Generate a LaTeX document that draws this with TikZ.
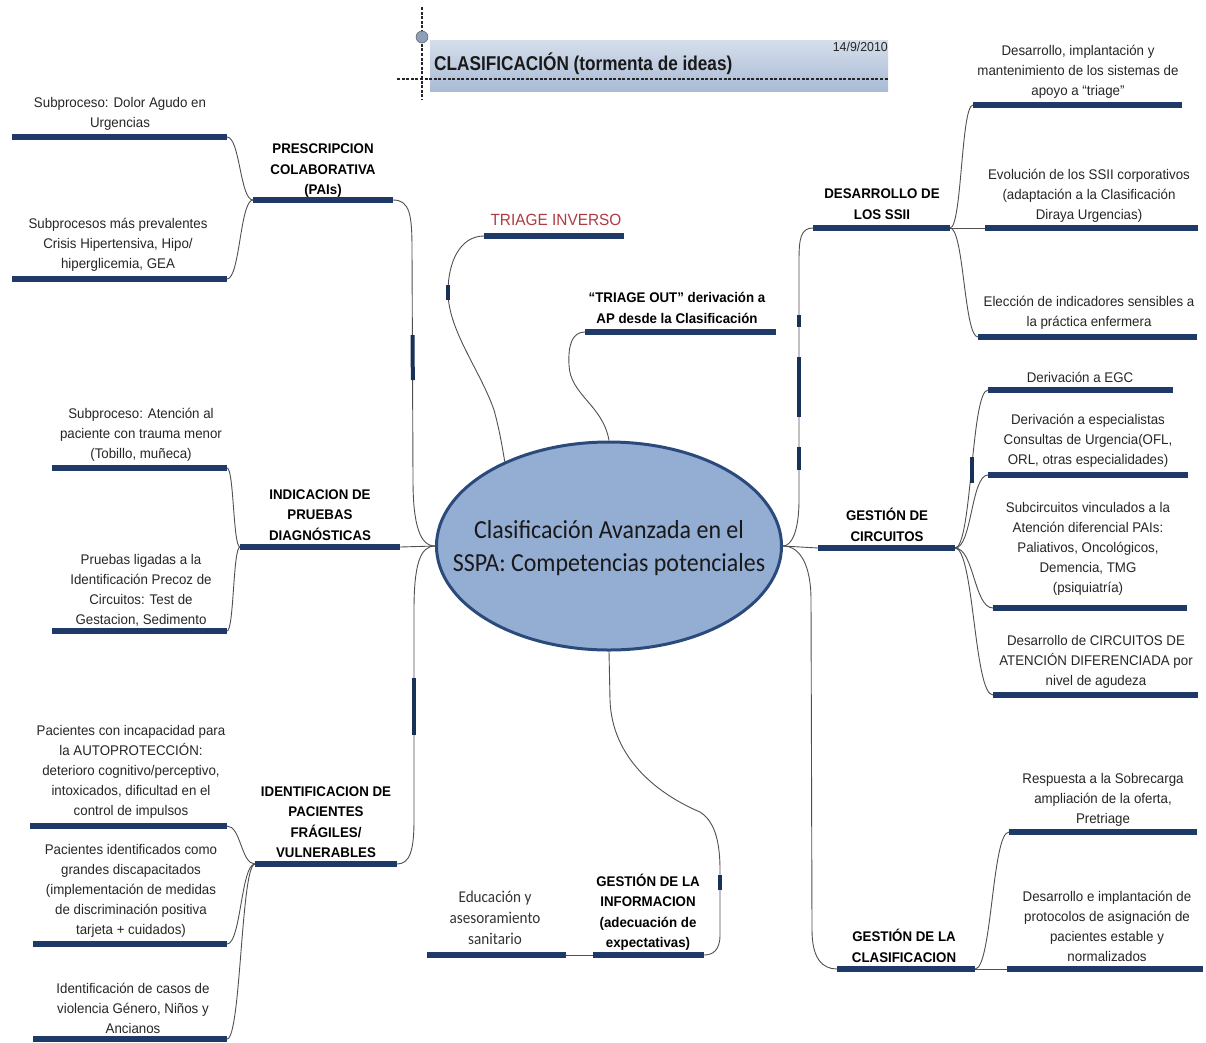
\documentclass[tikz,border=0pt]{standalone}
\usepackage{fontspec}
\setmainfont{Liberation Sans}
\newfontfamily\arl[FakeStretch=0.95]{Liberation Sans}
\newfontfamily\ttlfont[FakeStretch=0.86]{Liberation Sans}
\newfontfamily\calfont[FakeStretch=0.92]{Carlito}
\usetikzlibrary{shapes.geometric}
\definecolor{barblue}{HTML}{1F3A66}
\definecolor{linegray}{HTML}{505050}
\definecolor{ellfill}{HTML}{94ADD3}
\definecolor{elldraw}{HTML}{2B4A7C}
\definecolor{titletop}{HTML}{D5DEEB}
\definecolor{titlebot}{HTML}{A9BBD5}
\definecolor{redtxt}{HTML}{B03A42}
\definecolor{txt}{HTML}{262626}
\tikzset{
  bar/.style={line width=6pt, draw=barblue},
  conn/.style={draw=linegray, line width=0.9pt},
  tick/.style={line width=4pt, draw=barblue!85!black},
  leaf/.style={font=\arl\fontsize{14}{20}\selectfont, align=center, inner sep=0pt, text=txt},
  cat/.style={font=\arl\bfseries\fontsize{14}{20.5}\selectfont, align=center, inner sep=0pt, text=black},
  dashln/.style={line width=1.6pt, draw=black!85, dash pattern=on 3pt off 1.6pt}
}
\begin{document}
\begin{tikzpicture}[x=1pt,y=-1pt]
\path[use as bounding box, fill=white] (0,0) rectangle (1206,1042);

% ---------- title ----------
\shade[top color=titletop, bottom color=titlebot] (430,40) rectangle (888,91);
\draw[dashln] (422,7) -- (422,100);
\draw[dashln] (397,79) -- (888,79);
\node[circle, draw=black!70, fill=ellfill!70!gray, minimum size=12pt, inner sep=0pt] (dot) at (422,37) {};
\node[anchor=west, inner sep=0pt, font=\ttlfont\bfseries\fontsize{20}{24}\selectfont, text=black!90] (title) at (434,64) {CLASIFICACIÓN (tormenta de ideas)};
\node[anchor=east, inner sep=0pt, font=\arl\fontsize{13}{15}\selectfont, text=black!85] (date) at (888,47) {14/9/2010};

% ---------- central ellipse ----------
\node[ellipse, draw=elldraw, line width=3pt, fill=ellfill, minimum width=345pt, minimum height=208pt,
      inner sep=0pt] (E) at (609,546) {};
\node[inner sep=0pt, align=center, font=\calfont\fontsize{26}{33}\selectfont, text=black!90] (Etxt) at (609,548)
      {Clasificación Avanzada en el\\SSPA: Competencias potenciales};

% ---------- bar coordinates ----------
\coordinate (l1L) at (12,137);  \coordinate (l1R) at (227,137);
\coordinate (l2L) at (12,279);  \coordinate (l2R) at (227,279);
\coordinate (pcL) at (253,200); \coordinate (pcR) at (393,200);
\coordinate (l3L) at (52,468);  \coordinate (l3R) at (227,468);
\coordinate (l4L) at (52,631);  \coordinate (l4R) at (227,631);
\coordinate (ipL) at (240,547); \coordinate (ipR) at (400,547);
\coordinate (l5L) at (30,826);  \coordinate (l5R) at (227,826);
\coordinate (l6L) at (33,944);  \coordinate (l6R) at (227,944);
\coordinate (l7L) at (33,1039); \coordinate (l7R) at (227,1039);
\coordinate (idfL) at (255,864); \coordinate (idfR) at (397,864);
\coordinate (tiL) at (484,236); \coordinate (tiR) at (624,236);
\coordinate (toL) at (585,332); \coordinate (toR) at (776,332);
\coordinate (ssL) at (813,228); \coordinate (ssR) at (950,228);
\coordinate (r1L) at (973,105); \coordinate (r1R) at (1182,105);
\coordinate (r2L) at (985,228); \coordinate (r2R) at (1198,228);
\coordinate (r3L) at (978,337); \coordinate (r3R) at (1197,337);
\coordinate (gcL) at (818,548); \coordinate (gcR) at (955,548);
\coordinate (r4L) at (988,390); \coordinate (r4R) at (1173,390);
\coordinate (r5L) at (988,475); \coordinate (r5R) at (1188,475);
\coordinate (r6L) at (993,608); \coordinate (r6R) at (1187,608);
\coordinate (r7L) at (993,695); \coordinate (r7R) at (1198,695);
\coordinate (gclL) at (837,969); \coordinate (gclR) at (975,969);
\coordinate (r8L) at (1009,832); \coordinate (r8R) at (1197,832);
\coordinate (r9L) at (1007,969); \coordinate (r9R) at (1203,969);
\coordinate (giL) at (593,955); \coordinate (giR) at (704,955);
\coordinate (edL) at (427,955); \coordinate (edR) at (566,955);

% ---------- connectors: centre to main branches ----------
\draw[conn] (pcR) .. controls (410,200) and (412,215) .. (412,250) -- (413,480)
            .. controls (413,525) and (420,546) .. (E.west);
\draw[conn] (ipR) -- (E.west);
\draw[conn] (idfR) .. controls (410,864) and (414,850) .. (414,820) -- (414,610)
            .. controls (414,565) and (420,546) .. (E.west);
\draw[conn] (tiL) .. controls (460,236) and (448,262) .. (448,292)
            .. controls (448,330) and (480,370) .. (494,410)
            .. controls (499,428) and (502,445) .. (E.141);
\draw[conn] (toL) .. controls (572,332) and (568,345) .. (569,365)
            .. controls (570,395) and (603,405) .. (E.north);
\draw[conn] (ssL) .. controls (801,228) and (799,238) .. (799,260) -- (799,500)
            .. controls (799,530) and (792,546) .. (E.east);
\draw[conn] (E.east) -- (gcL);
\draw[conn] (E.east) .. controls (800,546) and (811,565) .. (811,600) -- (812,930)
            .. controls (812,958) and (822,969) .. (gclL);
\draw[conn] (E.south) -- (610,700) .. controls (612,760) and (660,795) .. (700,812)
            .. controls (716,822) and (720,845) .. (720,870) -- (720,935)
            .. controls (720,950) and (713,955) .. (giR);

% ---------- connectors: branches to leaves ----------
\draw[conn] (pcL) .. controls +(-13,0) and +(13,0) .. (l1R);
\draw[conn] (pcL) .. controls +(-13,0) and +(13,0) .. (l2R);
\draw[conn] (ipL) .. controls +(-7,0) and +(7,0) .. (l3R);
\draw[conn] (ipL) .. controls +(-7,0) and +(7,0) .. (l4R);
\draw[conn] (idfL) .. controls +(-14,0) and +(14,0) .. (l5R);
\draw[conn] (idfL) .. controls +(-14,0) and +(14,0) .. (l6R);
\draw[conn] (idfL) .. controls +(-14,0) and +(14,0) .. (l7R);
\draw[conn] (ssR) .. controls +(12,0) and +(-12,0) .. (r1L);
\draw[conn] (ssR) -- (r2L);
\draw[conn] (ssR) .. controls +(14,0) and +(-14,0) .. (r3L);
\draw[conn] (gcR) .. controls +(17,0) and +(-17,0) .. (r4L);
\draw[conn] (gcR) .. controls +(17,0) and +(-17,0) .. (r5L);
\draw[conn] (gcR) .. controls +(19,0) and +(-19,0) .. (r6L);
\draw[conn] (gcR) .. controls +(19,0) and +(-19,0) .. (r7L);
\draw[conn] (gclR) .. controls +(17,0) and +(-17,0) .. (r8L);
\draw[conn] (gclR) -- (r9L);
\draw[conn] (edR) -- (giL);

% ---------- small thick marks on lines ----------
\draw[tick] (412.6,335) -- (412.8,380);
\draw[tick] (414,678) -- (414,735);
\draw[tick] (448,285) -- (448,300);
\draw[tick] (799,315) -- (799,327);
\draw[tick] (799,357) -- (799,417);
\draw[tick] (799,447) -- (799,470);
\draw[tick] (971.5,457) -- (971.5,483);
\draw[tick] (720,875) -- (720,890);

% ---------- bars ----------
\foreach \n in {l1,l2,pc,l3,l4,ip,l5,l6,l7,idf,ti,to,ss,r1,r2,r3,gc,r4,r5,r6,r7,gcl,r8,r9,gi,ed}
  \draw[bar] (\n L) -- (\n R);

% ---------- texts ----------
\node[leaf] (l1) at (120,114) {Subproceso: Dolor Agudo en\\Urgencias};
\node[leaf] (l2) at (118,245) {Subprocesos más prevalentes\\Crisis Hipertensiva, Hipo/\\hiperglicemia, GEA};
\node[cat]  (pc) at (323,171) {PRESCRIPCION\\COLABORATIVA\\(PAIs)};
\node[leaf] (l3) at (141,435) {Subproceso: Atención al\\paciente con trauma menor\\(Tobillo, muñeca)};
\node[leaf] (l4) at (141,590) {Pruebas ligadas a la\\Identificación Precoz de\\Circuitos: Test de\\Gestacion, Sedimento};
\node[cat]  (ip) at (320,515) {INDICACION DE\\PRUEBAS\\DIAGNÓSTICAS};
\node[leaf] (l5) at (131,772) {Pacientes con incapacidad para\\la AUTOPROTECCIÓN:\\deterioro cognitivo/perceptivo,\\intoxicados, dificultad en el\\control de impulsos};
\node[leaf] (l6) at (131,891) {Pacientes identificados como\\grandes discapacitados\\(implementación de medidas\\de discriminación positiva\\tarjeta + cuidados)};
\node[leaf] (l7) at (133,1008) {Identificación de casos de\\violencia Género, Niños y\\Ancianos};
\node[cat]  (idf) at (326,822) {IDENTIFICACION DE\\PACIENTES\\FRÁGILES/\\VULNERABLES};
\node[inner sep=0pt, font=\arl\fontsize{16.2}{18}\selectfont, text=redtxt] (ti) at (556,220) {TRIAGE INVERSO};
\node[cat]  (to) at (677,308) {“TRIAGE OUT” derivación a\\AP desde la Clasificación};
\node[cat]  (ss) at (882,204) {DESARROLLO DE\\LOS SSII};
\node[leaf] (r1) at (1078,72) {Desarrollo, implantación y\\mantenimiento de los sistemas de\\apoyo a “triage”};
\node[leaf] (r2) at (1089,196) {Evolución de los SSII corporativos\\(adaptación a la Clasificación\\Diraya Urgencias)};
\node[leaf] (r3) at (1089,313) {Elección de indicadores sensibles a\\la práctica enfermera};
\node[cat]  (gc) at (887,525) {GESTIÓN DE\\CIRCUITOS};
\node[leaf] (r4) at (1080,377) {Derivación a EGC};
\node[leaf] (r5) at (1088,441) {Derivación a especialistas\\Consultas de Urgencia(OFL,\\ORL, otras especialidades)};
\node[leaf] (r6) at (1088,549) {Subcircuitos vinculados a la\\Atención diferencial PAIs:\\Paliativos, Oncológicos,\\Demencia, TMG\\(psiquiatría)};
\node[leaf] (r7) at (1096,662) {Desarrollo de CIRCUITOS DE\\ATENCIÓN DIFERENCIADA por\\nivel de agudeza};
\node[cat]  (gcl) at (904,946) {GESTIÓN DE LA\\CLASIFICACION};
\node[leaf] (r8) at (1103,800) {Respuesta a la Sobrecarga\\ampliación de la oferta,\\Pretriage};
\node[leaf] (r9) at (1107,926) {Desarrollo e implantación de\\protocolos de asignación de\\pacientes estable y\\normalizados};
\node[cat]  (gi) at (648,912) {GESTIÓN DE LA\\INFORMACION\\(adecuación de\\expectativas)};
\node[inner sep=0pt, align=center, font=\calfont\fontsize{16.5}{21}\selectfont, text=black!80] (ed) at (495,918) {Educación y\\asesoramiento\\sanitario};
\end{tikzpicture}
\end{document}
